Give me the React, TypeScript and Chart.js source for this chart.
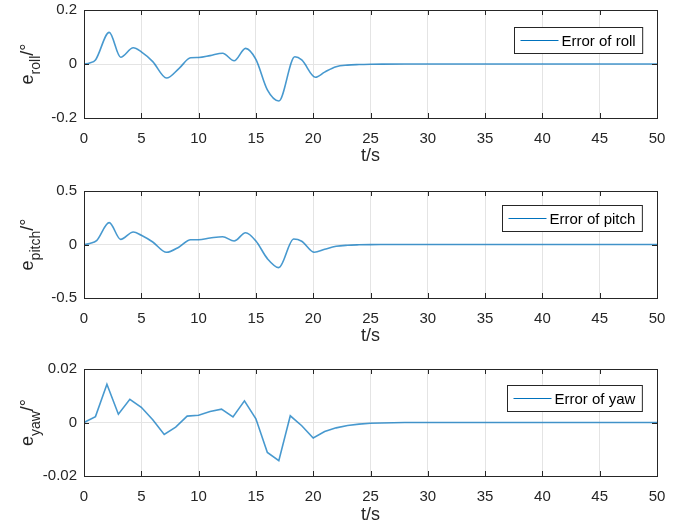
import React, { useEffect, useRef } from "react";
import { Chart, registerables } from "chart.js";

Chart.register(...registerables);

// ---------- data ----------
const xTickValues = [0, 5, 10, 15, 20, 25, 30, 35, 40, 45, 50];

const rollT = [0, 0.5, 1, 2.2, 3.2, 4.3, 5, 6, 7.2, 8.3, 9.3, 10, 11, 12.1, 13.1, 14.1, 15, 16, 17, 18.4, 19, 20.2, 21, 22, 23, 24, 25, 26, 28, 50];
const rollV = [0, 0.004, 0.015, 0.117, 0.025, 0.06, 0.045, 0.009, -0.052, -0.016, 0.023, 0.024, 0.031, 0.04, 0.012, 0.058, 0.017, -0.096, -0.137, 0.027, 0.015, -0.049, -0.03, -0.01, -0.004, -0.002, -0.001, -0.0005, 0, 0];

const pitchT = [0, 0.5, 1.1, 2.2, 3.2, 4.3, 5, 6, 7.2, 8.3, 9.3, 10, 11, 12.1, 13.1, 14.1, 15, 16, 17, 18.3, 19, 20.1, 21, 22, 23, 24, 25, 26, 28, 50];
const pitchV = [0, 0.01, 0.037, 0.204, 0.048, 0.117, 0.086, 0.023, -0.073, -0.023, 0.045, 0.045, 0.06, 0.073, 0.033, 0.11, 0.033, -0.132, -0.216, 0.051, 0.03, -0.073, -0.045, -0.017, -0.007, -0.003, -0.001, -0.0005, 0, 0];

const yawT = [0, 1, 2, 3, 4, 5, 6, 7, 8, 9, 10, 11, 12, 13, 14, 15, 16, 17, 18, 19, 20, 21, 22, 23, 24, 25, 26, 27, 28, 29, 30, 31, 32, 33, 34, 35, 36, 37, 38, 39, 40, 41, 42, 43, 44, 45, 46, 47, 48, 49, 50];
const yawV = [0, 0.0022, 0.0143, 0.0031, 0.0087, 0.0057, 0.001, -0.0045, -0.0017, 0.0024, 0.0027, 0.0041, 0.005, 0.0021, 0.0081, 0.0014, -0.0112, -0.0143, 0.0025, -0.0012, -0.0058, -0.0034, -0.002, -0.0011, -0.0006, -0.0003, -0.0002, -0.0001, 0, 0, 0, 0, 0, 0, 0, 0, 0, 0, 0, 0, 0, 0, 0, 0, 0, 0, 0, 0, 0, 0, 0];

const rollYTicks = [-0.2, 0, 0.2];
const rollYLabels = ["-0.2", "0", "0.2"];
const pitchYTicks = [-0.5, 0, 0.5];
const pitchYLabels = ["-0.5", "0", "0.5"];
const yawYTicks = [-0.02, 0, 0.02];
const yawYLabels = ["-0.02", "0", "0.02"];

const FONT = "'Liberation Sans', Arial, Helvetica, sans-serif";
const AXIS = "#262626";
const GRID = "#e4e4e4";
const LINE = "rgba(0,114,189,0.72)";
const LEGEND_LINE = "#0072BD";

type PanelProps = {
  top: number;
  height: number;
  padTop: number;
  xAxisH: number;
  t: number[];
  v: number[];
  label: string;
  yTicks: number[];
  yLabels: string[];
  sub: string;
  legendTop: number;
  smooth: boolean;
};

function Panel(p: PanelProps) {
  const ref = useRef<HTMLCanvasElement | null>(null);

  useEffect(() => {
    if (!ref.current) return;
    const deco = {
      id: "deco",
      afterDraw(chart: any) {
        const ctx = chart.ctx;
        const a = chart.chartArea;
        const xs = chart.scales.x;
        const ys = chart.scales.y;
        ctx.save();
        // inward tick marks
        ctx.strokeStyle = AXIS;
        ctx.lineWidth = 1;
        ctx.beginPath();
        xTickValues.forEach((tv) => {
          const x = Math.round(xs.getPixelForValue(tv)) + 0.5;
          ctx.moveTo(x, a.bottom);
          ctx.lineTo(x, a.bottom - 5);
          ctx.moveTo(x, a.top);
          ctx.lineTo(x, a.top + 5);
        });
        p.yTicks.forEach((tv) => {
          const y = Math.round(ys.getPixelForValue(tv)) + 0.5;
          ctx.moveTo(a.left, y);
          ctx.lineTo(a.left + 5, y);
          ctx.moveTo(a.right, y);
          ctx.lineTo(a.right - 5, y);
        });
        ctx.stroke();
        // box
        ctx.strokeRect(Math.round(a.left) + 0.5, Math.round(a.top) + 0.5, Math.round(a.right - a.left), Math.round(a.bottom - a.top));

        // legend
        ctx.font = `15px ${FONT}`;
        const tw = ctx.measureText(p.label).width;
        const bw = 6 + 38 + 3 + tw + 7;
        const bh = 26;
        const bx = Math.round(a.right - 15 - bw) + 0.5;
        const by = Math.round(a.top + p.legendTop) + 0.5;
        ctx.fillStyle = "#ffffff";
        ctx.fillRect(bx, by, bw, bh);
        ctx.strokeStyle = AXIS;
        ctx.strokeRect(bx, by, bw, bh);
        ctx.strokeStyle = LEGEND_LINE;
        ctx.beginPath();
        ctx.moveTo(bx + 6, by + bh / 2);
        ctx.lineTo(bx + 44, by + bh / 2);
        ctx.stroke();
        ctx.fillStyle = "#000000";
        ctx.textBaseline = "middle";
        ctx.textAlign = "left";
        ctx.fillText(p.label, bx + 47, by + bh / 2 + 1);

        // y title: e_{sub}/°
        const cy = (a.top + a.bottom) / 2;
        ctx.translate(33, cy);
        ctx.rotate(-Math.PI / 2);
        ctx.fillStyle = AXIS;
        ctx.textBaseline = "alphabetic";
        ctx.font = `18px ${FONT}`;
        const we = ctx.measureText("e").width;
        const wr = ctx.measureText("/°").width;
        ctx.font = `14px ${FONT}`;
        const ws = ctx.measureText(p.sub).width;
        let x0 = -(we + ws + wr) / 2;
        ctx.font = `18px ${FONT}`;
        ctx.fillText("e", x0, 0);
        x0 += we;
        ctx.font = `14px ${FONT}`;
        ctx.fillText(p.sub, x0, 7);
        x0 += ws;
        ctx.font = `18px ${FONT}`;
        ctx.fillText("/°", x0, 0);
        ctx.restore();
      },
    };

    const chart = new Chart(ref.current, {
      type: "line",
      data: {
        datasets: [
          {
            label: p.label,
            data: p.t.map((tv, i) => ({ x: tv, y: p.v[i] })),
            borderColor: LINE,
            borderWidth: 1.6,
            pointRadius: 0,
            fill: false,
            cubicInterpolationMode: p.smooth ? "monotone" : "default",
            tension: 0,
          },
        ],
      },
      options: {
        animation: false,
        responsive: false,
        maintainAspectRatio: false,
        layout: { padding: { top: p.padTop, right: 25, left: 0, bottom: 0 } },
        plugins: { legend: { display: false }, tooltip: { enabled: false } },
        scales: {
          x: {
            type: "linear",
            min: 0,
            max: 50,
            border: { display: false },
            grid: { color: GRID, drawTicks: false },
            ticks: {
              padding: 12,
              color: AXIS,
              font: { family: FONT, size: 15 },
              maxRotation: 0,
              autoSkip: false,
              callback: (val: any) => String(val),
            },
            title: {
              display: true,
              text: "t/s",
              color: AXIS,
              font: { family: FONT, size: 18 },
              padding: { top: 0, bottom: 3 },
            },
            afterBuildTicks: (s: any) => {
              s.ticks = xTickValues.map((tv) => ({ value: tv }));
            },
            afterFit: (s: any) => {
              s.height = p.xAxisH;
              s.paddingLeft = 0;
              s.paddingRight = 0;
            },
          },
          y: {
            type: "linear",
            min: p.yTicks[0],
            max: p.yTicks[p.yTicks.length - 1],
            border: { display: false },
            grid: { color: GRID, drawTicks: false },
            ticks: {
              padding: 7,
              color: AXIS,
              font: { family: FONT, size: 15 },
              autoSkip: false,
              callback: (val: any) => {
                const idx = p.yTicks.findIndex((tv) => Math.abs(tv - val) < 1e-9);
                return idx >= 0 ? p.yLabels[idx] : "";
              },
            },
            afterBuildTicks: (s: any) => {
              s.ticks = p.yTicks.map((tv) => ({ value: tv }));
            },
            afterFit: (s: any) => {
              s.width = 84;
              s.paddingTop = 0;
              s.paddingBottom = 0;
            },
          },
        },
      } as any,
      plugins: [deco],
    });
    return () => chart.destroy();
  }, []);

  return (
    <div style={{ position: "absolute", left: 0, top: p.top, width: 682, height: p.height }}>
      <canvas ref={ref} width={682} height={p.height} style={{ display: "block" }} />
    </div>
  );
}

export default function App() {
  return (
    <div style={{ position: "absolute", left: 0, top: 0, width: 682, height: 529, background: "#ffffff", overflow: "hidden" }}>
      <Panel top={0} height={170} padTop={10} xAxisH={52} t={rollT} v={rollV} label="Error of roll" yTicks={rollYTicks} yLabels={rollYLabels} sub="roll" legendTop={17} smooth={true} />
      <Panel top={180} height={170} padTop={11} xAxisH={52} t={pitchT} v={pitchV} label="Error of pitch" yTicks={pitchYTicks} yLabels={pitchYLabels} sub="pitch" legendTop={14} smooth={true} />
      <Panel top={358} height={171} padTop={11} xAxisH={53} t={yawT} v={yawV} label="Error of yaw" yTicks={yawYTicks} yLabels={yawYLabels} sub="yaw" legendTop={16} smooth={false} />
    </div>
  );
}
